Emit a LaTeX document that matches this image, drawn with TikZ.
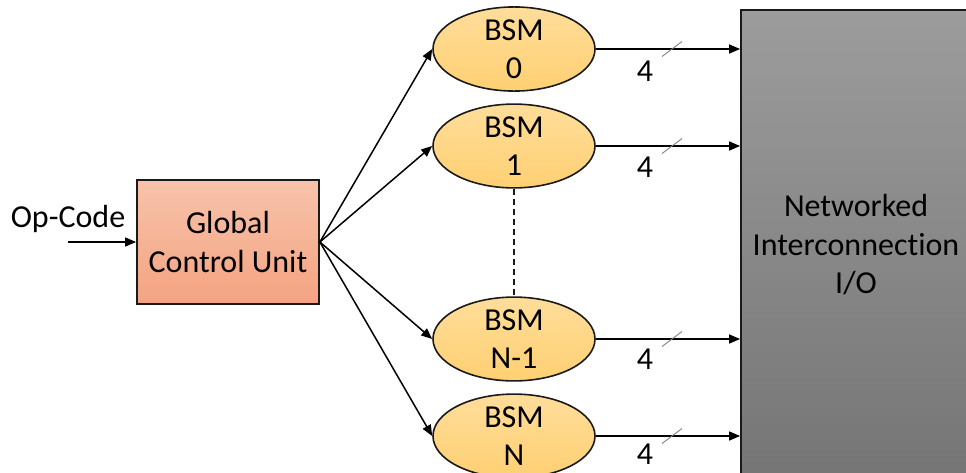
\documentclass[tikz,border=0pt]{standalone}
\usepackage{fontspec}
\setmainfont{Carlito}[Ligatures={NoCommon}]
\usetikzlibrary{shapes.geometric,arrows.meta}
\definecolor{gcutop}{HTML}{F7C3AB}
\definecolor{gcubot}{HTML}{F4A381}
\definecolor{bsmtop}{HTML}{FFDD9A}
\definecolor{bsmbot}{HTML}{FFD073}
\definecolor{nettop}{HTML}{9C9C9C}
\definecolor{netbot}{HTML}{757575}
\definecolor{edge}{HTML}{1A1A1A}
\tikzset{
  lbl/.style={font=\fontsize{32}{38.5}\selectfont, inner sep=0pt, align=center},
  gcu/.style={lbl, draw=edge, line width=1.8pt, rectangle, top color=gcutop, bottom color=gcubot,
    minimum width=182pt, minimum height=124pt},
  bsm/.style={lbl, ellipse, draw=edge, line width=1.6pt, top color=bsmtop, bottom color=bsmbot,
    minimum width=162pt, minimum height=78pt},
  netbox/.style={lbl, draw=edge, line width=1.8pt, rectangle, top color=nettop, bottom color=netbot,
    minimum width=230pt, minimum height=470pt},
  conn/.style={draw=black, line width=1.5pt, -{Triangle[length=11pt,width=9pt]}},
  busslash/.style={draw=gray, line width=0.9pt},
  gap/.style={draw=edge, line width=1.5pt, dash pattern=on 6pt off 4pt}
}
\begin{document}
\begin{tikzpicture}[x=1pt,y=-1pt]
\useasboundingbox (0,0) rectangle (966,472);
\clip (0,0) rectangle (966,472);

% control unit and its op-code input
\node[gcu] (gcu) at (228,242) {Global\\Control Unit};
\node[lbl] (op) at (68,219) {Op-Code};
\coordinate (opin) at (68,242);
\draw[conn] (opin) -- (gcu.west);

% interconnection block
\node[netbox] (net) at (856,245) {Networked\\Interconnection\\I/O};

% bit-serial machines
\node[bsm] (b0) at (514,49) {BSM\\0};
\node[bsm] (b1) at (514,146) {BSM\\1};
\node[bsm] (b2) at (514,339) {BSM\\N-1};
\node[bsm] (b3) at (514,436) {BSM\\N};

\draw[gap] (b1.south) -- (b2.north);

% control fan-out
\foreach \b in {b0,b1,b2,b3}
  \draw[conn] (gcu.east) -- (\b.west);

% 4-bit buses into the interconnection block
\foreach \b/\y in {b0/49,b1/146,b2/339,b3/436}{
  \draw[conn] (\b.east) -- (\b.east -| net.west);
  \coordinate (s\b) at (672,\y);
  \draw[busslash] ([shift={(-10,7.5)}]s\b) -- ([shift={(10,-7.5)}]s\b);
}
\node[lbl] (w0) at (645,71) {4};
\node[lbl] (w1) at (645,167) {4};
\node[lbl] (w2) at (645,359) {4};
\node[lbl] (w3) at (645,454) {4};
\end{tikzpicture}
\end{document}
